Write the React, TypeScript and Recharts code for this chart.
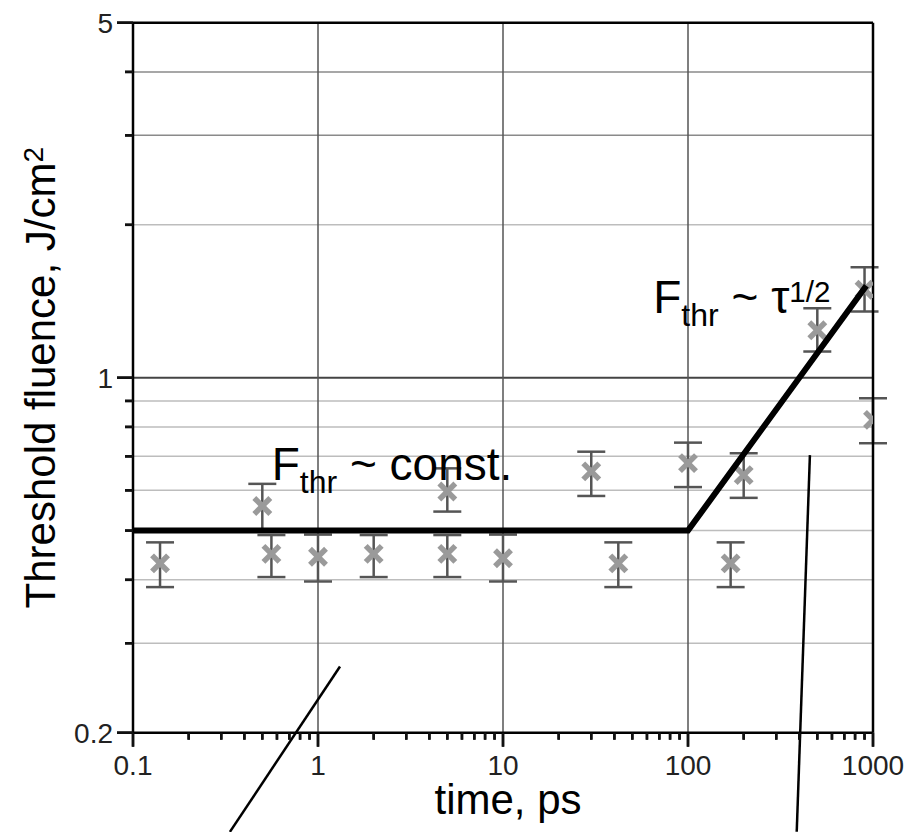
import React from 'react';
import {
  ComposedChart, XAxis, YAxis, Scatter, ErrorBar, ReferenceLine, ReferenceDot, Label,
} from 'recharts';

// measured pulse durations (ps) and threshold fluences (J/cm^2)
const times = [0.14, 0.5, 0.56, 1, 2, 5, 5, 10, 30, 42, 100, 170, 200, 500, 900, 1000];
const fluence = [0.431, 0.559, 0.45, 0.444, 0.45, 0.45, 0.597, 0.441, 0.654, 0.431, 0.679, 0.431, 0.643, 1.24, 1.49, 0.826];
const fluenceLow = [0.387, 0.502, 0.405, 0.397, 0.405, 0.405, 0.545, 0.397, 0.585, 0.387, 0.609, 0.387, 0.58, 1.126, 1.35, 0.743];
const fluenceHigh = [0.474, 0.618, 0.49, 0.491, 0.49, 0.49, 0.663, 0.491, 0.715, 0.474, 0.745, 0.474, 0.71, 1.37, 1.65, 0.911];

// fit line: constant, then ~ tau^(1/2)
const fitTimes = [0.1, 100, 920];
const fitFluence = [0.5, 0.5, 1.517];

// ticks
const xTicks = [0.1, 0.2, 0.3, 0.4, 0.5, 0.6, 0.7, 0.8, 0.9, 1, 2, 3, 4, 5, 6, 7, 8, 9, 10, 20, 30, 40, 50, 60, 70, 80, 90, 100, 200, 300, 400, 500, 600, 700, 800, 900, 1000];
const xLabelled = [0.1, 1, 10, 100, 1000];
const yTicks = [0.2, 0.3, 0.4, 0.5, 0.6, 0.7, 0.8, 0.9, 1, 2, 3, 4, 5];
const yLabelled = [0.2, 1, 5];
const xGrid = [1, 10, 100];
const yGridLight = [0.3, 0.4, 0.5, 0.6, 0.7, 0.8, 0.9, 2];
const yGridMid = [3, 4];
const yGridDark = [1];

// leader lines (annotation)
const leader1 = [{ x: 1.315, y: 0.27 }, { x: 0.334, y: 0.1276 }];
const leader2 = [{ x: 456, y: 0.704 }, { x: 387, y: 0.1276 }];

const FONT = '"Liberation Sans", Arial, Helvetica, sans-serif';

const pointsData = times.map((t, i) => ({
  x: t,
  y: fluence[i],
  err: [fluence[i] - fluenceLow[i], fluenceHigh[i] - fluence[i]],
}));
const fitData = fitTimes.map((t, i) => ({ x: t, y: fitFluence[i] }));

const fmt = (v: number) => String(v);

const renderXTick = (props: any) => {
  const x = Number(props.x);
  const y = Number(props.y);
  const v = props.payload.value;
  const major = xLabelled.includes(v);
  return (
    <g key={`xt${v}`}>
      <rect x={x - 1.25} y={y} width={2.5} height={major ? 14 : 7} fill="#111" />
      {major && (
        <text x={x} y={y + 42} textAnchor="middle" fontSize={28} fontFamily={FONT} fill="#222">
          {fmt(v)}
        </text>
      )}
    </g>
  );
};

const renderYTick = (props: any) => {
  const x = Number(props.x);
  const y = Number(props.y);
  const v = props.payload.value;
  const major = yLabelled.includes(v);
  const len = major ? 16 : 8;
  return (
    <g key={`yt${v}`}>
      <rect x={x - len} y={y - 1.25} width={len} height={2.5} fill="#111" />
      {major && (
        <text x={x - 20} y={y} dy="0.36em" textAnchor="end" fontSize={28} fontFamily={FONT} fill="#222">
          {fmt(v)}
        </text>
      )}
    </g>
  );
};

// short tick marks drawn outside the plot from a reference line's endpoints
const xMarkShape = (len: number) => (p: any) => {
  const x = Number(p.x1);
  const yb = Math.max(Number(p.y1), Number(p.y2));
  return <line x1={x} y1={yb} x2={x} y2={yb + len} stroke="#111" strokeWidth={2.5} />;
};
const yMarkShape = (len: number) => (p: any) => {
  const y = Number(p.y1);
  const xl = Math.min(Number(p.x1), Number(p.x2));
  return <line x1={xl - len} y1={y} x2={xl} y2={y} stroke="#111" strokeWidth={2.5} />;
};

const MarkerX = (props: any) => {
  const { cx, cy } = props;
  if (cx == null || cy == null) return <g />;
  const s = 8;
  return (
    <g>
      <line x1={cx - s} y1={cy - s} x2={cx + s} y2={cy + s} stroke="#9a9a9a" strokeWidth={5.5} />
      <line x1={cx - s} y1={cy + s} x2={cx + s} y2={cy - s} stroke="#9a9a9a" strokeWidth={5.5} />
    </g>
  );
};

const ConstText = (props: any) => (
  <text x={props.cx} y={props.cy} fontFamily={FONT} fill="#000">
    <tspan fontSize={46}>F</tspan>
    <tspan fontSize={32} dy={12.7}>thr</tspan>
    <tspan fontSize={46} dy={-12.7}>{' ~ const.'}</tspan>
  </text>
);

const TauText = (props: any) => (
  <text x={props.cx} y={props.cy} fontFamily={FONT} fill="#000">
    <tspan fontSize={46}>F</tspan>
    <tspan fontSize={32} dy={12.7}>thr</tspan>
    <tspan fontSize={46} dy={-12.7}>{' ~ τ'}</tspan>
    <tspan fontSize={29.5} dy={-11.6}>1/2</tspan>
  </text>
);

const XTitle = (props: any) => {
  const vb = props.viewBox;
  return (
    <text x={vb.x + vb.width / 2 + 5} y={vb.y + 81} textAnchor="middle" fontSize={42} fontFamily={FONT} fill="#000">
      time, ps
    </text>
  );
};

const YTitle = (props: any) => {
  const vb = props.viewBox;
  const cx = 55;
  const cy = vb.y + vb.height / 2;
  return (
    <text x={cx} y={cy} transform={`rotate(-90 ${cx} ${cy})`} textAnchor="middle" fontSize={42} fontFamily={FONT} fill="#000">
      Threshold fluence, J/cm
      <tspan fontSize={28} dy={-12}>2</tspan>
    </text>
  );
};

export default function App() {
  return (
    <div style={{ position: 'absolute', left: 0, top: 0, width: 913, height: 832, background: '#fff' }}>
      <ComposedChart
        width={913}
        height={832}
        margin={{ top: 22.7, right: 40, bottom: 0, left: 0 }}
      >
        <XAxis
          dataKey="x"
          type="number"
          scale="log"
          domain={[0.1, 1000]}
          allowDataOverflow
          ticks={xTicks}
          interval={0}
          tick={renderXTick}
          tickLine={false}
          tickSize={0}
          tickMargin={0}
          height={99.3}
          axisLine={{ stroke: '#000', strokeWidth: 2.5 }}
        >
          <Label content={<XTitle />} />
        </XAxis>
        <YAxis
          dataKey="y"
          type="number"
          scale="log"
          domain={[0.2, 5]}
          allowDataOverflow
          ticks={yTicks}
          interval={0}
          tick={renderYTick}
          tickLine={false}
          tickSize={0}
          tickMargin={0}
          width={133}
          axisLine={{ stroke: '#000', strokeWidth: 2.5 }}
        >
          <Label content={<YTitle />} />
        </YAxis>

        {yGridLight.map((v) => (
          <ReferenceLine key={`yl${v}`} y={v} stroke="#bdbdbd" strokeWidth={1.5} />
        ))}
        {yGridMid.map((v) => (
          <ReferenceLine key={`ym${v}`} y={v} stroke="#8a8a8a" strokeWidth={1.5} />
        ))}
        {yGridDark.map((v) => (
          <ReferenceLine key={`yd${v}`} y={v} stroke="#444" strokeWidth={2} />
        ))}
        {xGrid.map((v) => (
          <ReferenceLine key={`x${v}`} x={v} stroke="#555" strokeWidth={1.5} />
        ))}

        {xTicks.map((v) => (
          <ReferenceLine key={`xm${v}`} x={v} ifOverflow="visible"
            shape={xMarkShape(xLabelled.includes(v) ? 14 : 7)} />
        ))}
        {yTicks.map((v) => (
          <ReferenceLine key={`ymk${v}`} y={v} ifOverflow="visible"
            shape={yMarkShape(yLabelled.includes(v) ? 16 : 8)} />
        ))}

        <Scatter data={pointsData} dataKey="y" fill="#9a9a9a" shape={<MarkerX />} isAnimationActive={false}>
          <ErrorBar dataKey="err" direction="y" width={14} stroke="#555" strokeWidth={2.5} />
        </Scatter>

        <Scatter
          data={fitData}
          dataKey="y"
          fill="#000"
          line={{ stroke: '#000', strokeWidth: 6 }}
          shape={() => <g />}
          isAnimationActive={false}
        />

        <ReferenceLine y={5} stroke="#000" strokeWidth={2.5} />
        <ReferenceLine x={1000} stroke="#000" strokeWidth={2.5} />

        <ReferenceLine segment={leader1} stroke="#000" strokeWidth={2.5} ifOverflow="visible" />
        <ReferenceLine segment={leader2} stroke="#000" strokeWidth={2.5} ifOverflow="visible" />

        <ReferenceDot x={0.562} y={0.629} r={0} ifOverflow="visible" shape={<ConstText />} />
        <ReferenceDot x={64.9} y={1.339} r={0} ifOverflow="visible" shape={<TauText />} />
      </ComposedChart>
    </div>
  );
}
